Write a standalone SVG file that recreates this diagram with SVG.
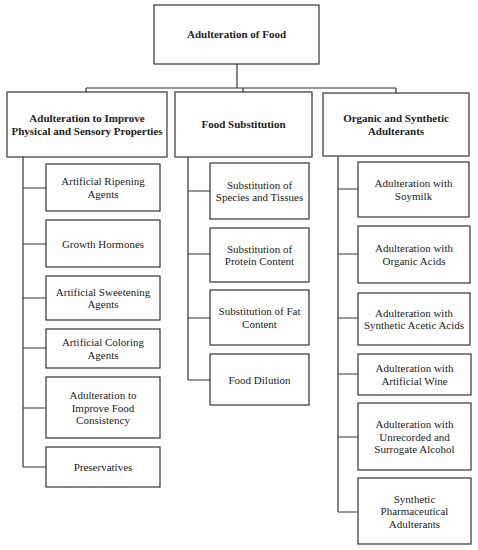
<svg xmlns="http://www.w3.org/2000/svg" width="478" height="550" viewBox="0 0 478 550">
<style>
.box{fill:#fff;stroke:#333;stroke-width:1.2}
.ln{fill:none;stroke:#333;stroke-width:1.2}
text{font-family:"Liberation Serif","Times New Roman",serif;font-size:11px;fill:#222;text-anchor:middle}
.b{font-weight:bold}
</style>
<rect width="478" height="550" fill="#fff"/>
<g id="connectors">
<path class="ln" d="M237,64 V88 M86,88 H396 M86,88 V92 M243,88 V92 M396,88 V93"/>
<path class="ln" d="M23,157 V467 M23,188 H46 M23,244 H46 M23,298 H46 M23,348 H46 M23,408 H46 M23,467 H46"/>
<path class="ln" d="M188,157 V380 M188,191 H210 M188,254 H210 M188,318 H210 M188,380 H210"/>
<path class="ln" d="M338,156 V512 M338,189 H358 M338,254 H358 M338,318 H358 M338,374 H358 M338,437 H358 M338,512 H358"/>
</g>
<g id="root"><rect class="box" x="154" y="5" width="165" height="59"/><text class="b" x="236.5" y="38">Adulteration of Food</text></g>
<g id="catA"><rect class="box" x="7" y="92" width="160" height="65"/><text class="b" x="87"><tspan x="87" y="122">Adulteration to Improve</tspan><tspan x="87" y="134.5">Physical and Sensory Properties</tspan></text></g>
<g id="catB"><rect class="box" x="175" y="92" width="137" height="65"/><text class="b" x="243.5" y="128">Food Substitution</text></g>
<g id="catC"><rect class="box" x="323" y="93" width="146" height="63"/><text class="b" x="396"><tspan x="396" y="122">Organic and Synthetic</tspan><tspan x="396" y="134.5">Adulterants</tspan></text></g>

<g id="a1"><rect class="box" x="46" y="164" width="114" height="47"/><text><tspan x="103" y="185">Artificial Ripening</tspan><tspan x="103" y="197.5">Agents</tspan></text></g>
<g id="a2"><rect class="box" x="46" y="220" width="114" height="47"/><text x="103" y="247.5">Growth Hormones</text></g>
<g id="a3"><rect class="box" x="46" y="276" width="114" height="44"/><text><tspan x="103" y="295.75">Artificial Sweetening</tspan><tspan x="103" y="308.25">Agents</tspan></text></g>
<g id="a4"><rect class="box" x="46" y="329" width="114" height="39"/><text><tspan x="103" y="346">Artificial Coloring</tspan><tspan x="103" y="358.5">Agents</tspan></text></g>
<g id="a5"><rect class="box" x="46" y="377" width="114" height="61"/><text><tspan x="103" y="399">Adulteration to</tspan><tspan x="103" y="411.5">Improve Food</tspan><tspan x="103" y="424">Consistency</tspan></text></g>
<g id="a6"><rect class="box" x="46" y="447" width="114" height="40"/><text x="103" y="471">Preservatives</text></g>

<g id="b1"><rect class="box" x="210" y="163" width="99" height="56"/><text><tspan x="259.5" y="188.75">Substitution of</tspan><tspan x="259.5" y="201.25">Species and Tissues</tspan></text></g>
<g id="b2"><rect class="box" x="210" y="228" width="99" height="54"/><text><tspan x="259.5" y="252.75">Substitution of</tspan><tspan x="259.5" y="265.25">Protein Content</tspan></text></g>
<g id="b3"><rect class="box" x="210" y="290" width="99" height="55"/><text><tspan x="259.5" y="315.25">Substitution of Fat</tspan><tspan x="259.5" y="327.75">Content</tspan></text></g>
<g id="b4"><rect class="box" x="210" y="354" width="99" height="51"/><text x="259.5" y="383.5">Food Dilution</text></g>

<g id="c1"><rect class="box" x="358" y="162" width="111" height="55"/><text><tspan x="413.5" y="187.25">Adulteration with</tspan><tspan x="413.5" y="199.75">Soymilk</tspan></text></g>
<g id="c2"><rect class="box" x="358" y="226" width="112" height="57"/><text><tspan x="414" y="252.25">Adulteration with</tspan><tspan x="414" y="264.75">Organic Acids</tspan></text></g>
<g id="c3"><rect class="box" x="358" y="293" width="112" height="52"/><text><tspan x="414" y="316.75">Adulteration with</tspan><tspan x="414" y="329.25">Synthetic Acetic Acids</tspan></text></g>
<g id="c4"><rect class="box" x="358" y="354" width="113" height="41"/><text><tspan x="414.5" y="372.25">Adulteration with</tspan><tspan x="414.5" y="384.75">Artificial Wine</tspan></text></g>
<g id="c5"><rect class="box" x="358" y="403" width="113" height="67"/><text><tspan x="414.5" y="428">Adulteration with</tspan><tspan x="414.5" y="440.5">Unrecorded and</tspan><tspan x="414.5" y="453">Surrogate Alcohol</tspan></text></g>
<g id="c6"><rect class="box" x="358" y="478" width="113" height="66"/><text><tspan x="414.5" y="502.5">Synthetic</tspan><tspan x="414.5" y="515">Pharmaceutical</tspan><tspan x="414.5" y="527.5">Adulterants</tspan></text></g>
</svg>
